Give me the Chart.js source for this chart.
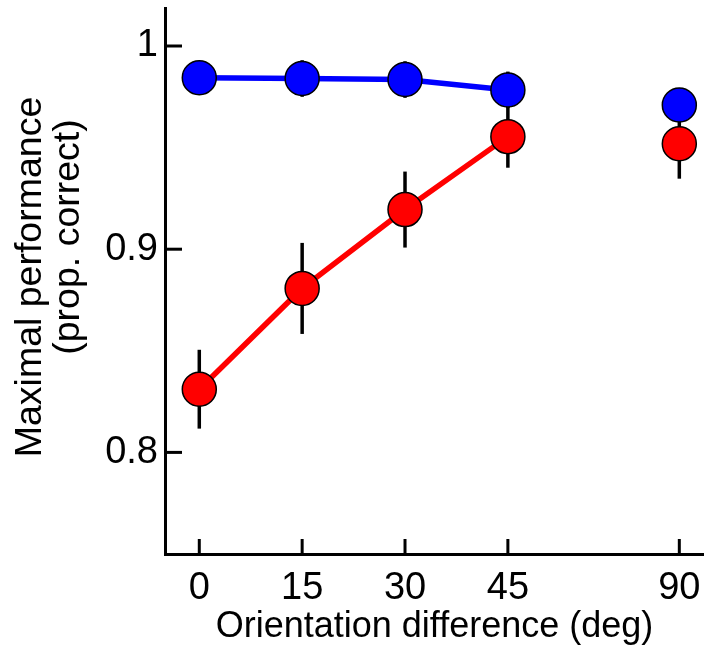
<!DOCTYPE html>
<html><head><meta charset="utf-8">
<script src="https://cdn.jsdelivr.net/npm/chart.js@4"></script>
<style>html,body{margin:0;padding:0;background:#fff}#wrap{width:704px;height:645px}</style>
</head><body><div id="wrap"><canvas id="c" width="704" height="645"></canvas></div>
<script>
// ---- data ----
const orientations = [0, 15, 30, 45, 90];
const xTickLabels = ["0", "15", "30", "45", "90"];
const blueValues = [0.9844, 0.9840, 0.9835, 0.9784, 0.9710];
const blueErrors = [0.006, 0.009, 0.009, 0.009, 0.008];
const redValues  = [0.8311, 0.8807, 0.9195, 0.9554, 0.9519];
const redErrors  = [0.0194, 0.0224, 0.0187, 0.0153, 0.0172];
const yTicks = [0.8, 0.9, 1];
const yTickLabels = ["0.8", "0.9", "1"];

// broken x axis: compress beyond 45 deg
const BREAK_AT = 45, COMPRESS = 25 / 45;
const axisPos = v => v <= BREAK_AT ? v : BREAK_AT + (v - BREAK_AT) * COMPRESS;
const series = vals => orientations.map((o, i) => ({x: axisPos(o), y: vals[i]}));

const FONT = "'Liberation Sans', Arial, Helvetica, sans-serif";
const TICK_FS = 38, XTITLE_FS = 36, YTITLE_FS = 37.5;
Chart.defaults.font.family = FONT;
Chart.defaults.color = '#000';

const errorBars = {
  id: 'errorBars',
  beforeDatasetsDraw(chart) {
    const {ctx, scales: {x, y}} = chart;
    ctx.save();
    ctx.strokeStyle = '#000';
    ctx.lineWidth = 3.5;
    [[blueValues, blueErrors], [redValues, redErrors]].forEach(([v, e]) => {
      orientations.forEach((o, i) => {
        const px = x.getPixelForValue(axisPos(o));
        ctx.beginPath();
        ctx.moveTo(px, y.getPixelForValue(v[i] - e[i]));
        ctx.lineTo(px, y.getPixelForValue(v[i] + e[i]));
        ctx.stroke();
      });
    });
    ctx.restore();
  }
};

const inwardTicks = {
  id: 'inwardTicks',
  beforeDatasetsDraw(chart) {
    const {ctx, chartArea: a, scales: {x, y}} = chart;
    ctx.save();
    ctx.strokeStyle = '#000';
    ctx.lineWidth = 3;
    x.ticks.forEach(t => {
      const px = x.getPixelForValue(t.value);
      ctx.beginPath(); ctx.moveTo(px, a.bottom); ctx.lineTo(px, a.bottom - 15); ctx.stroke();
    });
    y.ticks.forEach(t => {
      const py = y.getPixelForValue(t.value);
      ctx.beginPath(); ctx.moveTo(a.left, py); ctx.lineTo(a.left + 17, py); ctx.stroke();
    });
    ctx.restore();
  }
};

const yTitle = {
  id: 'yTitle',
  afterDraw(chart) {
    const ctx = chart.ctx;
    const draw = (text, cx, cy) => {
      ctx.save();
      ctx.fillStyle = '#000';
      ctx.font = YTITLE_FS + 'px ' + FONT;
      ctx.textAlign = 'center';
      ctx.textBaseline = 'middle';
      ctx.translate(cx, cy); ctx.rotate(-Math.PI / 2);
      ctx.fillText(text, 0, 0);
      ctx.restore();
    };
    draw('Maximal performance', 31, 277);
    draw('(prop. correct)', 69, 237);
  }
};

const segHide = ctx => orientations[ctx.p1DataIndex] > BREAK_AT ? 'rgba(0,0,0,0)' : undefined;

const pointStyle = color => ({
  showLine: true, borderColor: color, borderWidth: 5.5, backgroundColor: color,
  pointRadius: 17, pointHoverRadius: 17, pointBorderColor: '#000', pointBorderWidth: 1.5,
  pointBackgroundColor: color, segment: {borderColor: segHide}, clip: false
});

new Chart(document.getElementById('c'), {
  type: 'scatter',
  data: {
    datasets: [
      Object.assign({label: 'red', data: series(redValues)}, pointStyle('#ff0000')),
      Object.assign({label: 'blue', data: series(blueValues)}, pointStyle('#0000ff'))
    ]
  },
  options: {
    responsive: false, animation: false, devicePixelRatio: 1,
    layout: {autoPadding: false, padding: {top: 8, right: 0, bottom: 0, left: 0}},
    plugins: {legend: {display: false}, tooltip: {enabled: false}},
    scales: {
      x: {
        type: 'linear', min: -5, max: 73.6,
        afterBuildTicks: s => { s.ticks = orientations.map(o => ({value: axisPos(o)})); },
        afterFit: s => { s.height = 91; s.paddingLeft = 0; s.paddingRight = 0; },
        grid: {display: false, drawTicks: false},
        border: {display: true, color: '#000', width: 3},
        ticks: {
          padding: 12, font: {size: TICK_FS}, color: '#000', autoSkip: false, maxRotation: 0,
          callback: (v, i) => xTickLabels[i]
        },
        title: {display: true, text: 'Orientation difference (deg)', font: {size: XTITLE_FS}, color: '#000', padding: {top: 0, bottom: -4}}
      },
      y: {
        type: 'linear', min: 0.75, max: 1.0187,
        afterBuildTicks: s => { s.ticks = yTicks.map(v => ({value: v})); },
        afterFit: s => { s.width = 165; s.paddingTop = 0; s.paddingBottom = 0; },
        grid: {display: false, drawTicks: false},
        border: {display: true, color: '#000', width: 3},
        ticks: {
          padding: 7, font: {size: TICK_FS}, color: '#000', autoSkip: false,
          callback: (v, i) => yTickLabels[i]
        },
        title: {display: false}
      }
    }
  },
  plugins: [inwardTicks, errorBars, yTitle]
});
</script>
</body></html>
